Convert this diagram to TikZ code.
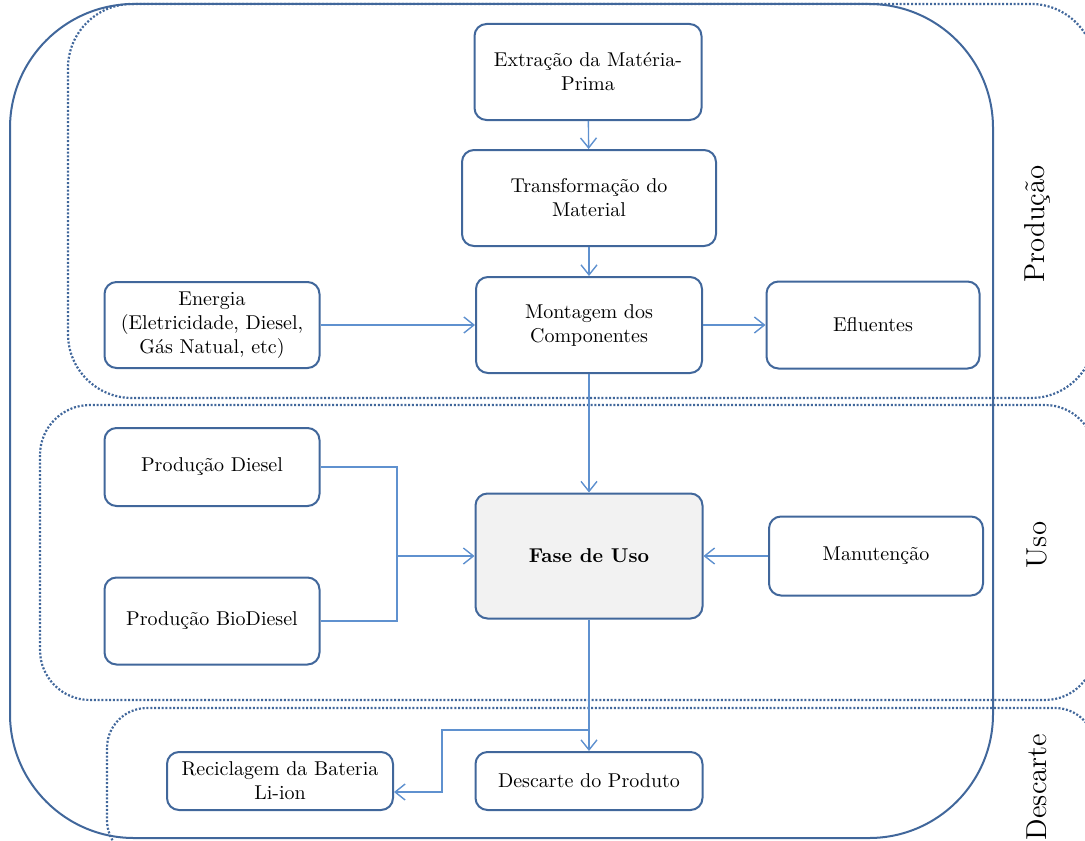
\documentclass[tikz,border=0pt]{standalone}
\usepackage{tikz}
\usetikzlibrary{arrows.meta,calc}
\definecolor{frameblue}{RGB}{65,103,155}
\definecolor{linkblue}{RGB}{95,145,207}

\begin{document}
\begin{tikzpicture}[x=0.5pt,y=-0.5pt,
  box/.style={draw=frameblue,line width=1pt,rounded corners=6pt,align=center,inner sep=2pt},
  link/.style={draw=linkblue,line width=0.7pt,-{Straight Barb[length=5pt,width=8pt]}},
  zone/.style={draw=frameblue,line width=1.1pt,dash pattern=on 1pt off 0.9pt},
  phase/.style={font=\Large,rotate=90}]
  \useasboundingbox (0,0) rectangle (1085,840);

  %% ── zones ──
  \draw[zone,rounded corners=32pt] (68,4) rectangle (1095,398);
  \draw[zone,rounded corners=25pt] (40,405) rectangle (1095,700);
  \draw[zone,rounded corners=20pt] (107,708) rectangle (1095,860);
  \draw[frameblue,line width=1pt,rounded corners=62pt] (10,4) rectangle (993,838);

  \node[phase] (lblprod) at (1037,224) {Produção};
  \node[phase] (lbluso) at (1037,545) {Uso};
  \node[phase] (lbldesc) at (1037,787) {Descarte};

  %% ── produção ──
  \node[box,minimum width=113.5pt,minimum height=48pt] (extr) at (588,72)
    {Extração da Matéria-\\Prima};
  \node[box,minimum width=127pt,minimum height=48pt] (transf) at (589,198)
    {Transformação do\\Material};
  \node[box,minimum width=113pt,minimum height=48pt] (mont) at (589,325)
    {Montagem dos\\Componentes};
  \node[box,minimum width=107.5pt,minimum height=43pt] (energ) at (212,325)
    {Energia\\(Eletricidade, Diesel,\\Gás Natual, etc)};
  \node[box,minimum width=106.5pt,minimum height=43.5pt] (eflu) at (873,325)
    {Efluentes};

  %% ── uso ──
  \node[box,minimum width=107.5pt,minimum height=39pt] (diesel) at (212,467)
    {Produção Diesel};
  \node[box,minimum width=107.5pt,minimum height=43.5pt] (bio) at (212,621)
    {Produção BioDiesel};
  \node[box,fill=gray!10,font=\bfseries,minimum width=113.5pt,minimum height=62.5pt] (fase) at (589,556)
    {Fase de Uso};
  \node[box,minimum width=107pt,minimum height=39.5pt] (manut) at (876,556)
    {Manutenção};

  %% ── descarte ──
  \node[box,minimum width=113pt,minimum height=29pt] (recic) at (280,781)
    {Reciclagem da Bateria\\Li-ion};
  \node[box,minimum width=113.5pt,minimum height=29pt] (desc) at (589,781)
    {Descarte do Produto};

  %% ── connectors ──
  \draw[link] (extr) -- (transf);
  \draw[link] (transf) -- (mont);
  \draw[link] (energ) -- (mont);
  \draw[link] (mont) -- (eflu);
  \draw[link] (mont) -- (fase);

  \coordinate (join) at (397,556);
  \draw[draw=linkblue,line width=0.7pt] (diesel.east) -| (join) |- (bio.east);
  \draw[link] (join) -- (fase.west);
  \draw[link] (manut) -- (fase);
  \draw[link] (fase) -- (desc);

  \coordinate (split) at (589,730);
  \coordinate (turn) at (442,792);
  \draw[link] (split) -| (turn) -- (turn -| recic.east);
\end{tikzpicture}
\end{document}
